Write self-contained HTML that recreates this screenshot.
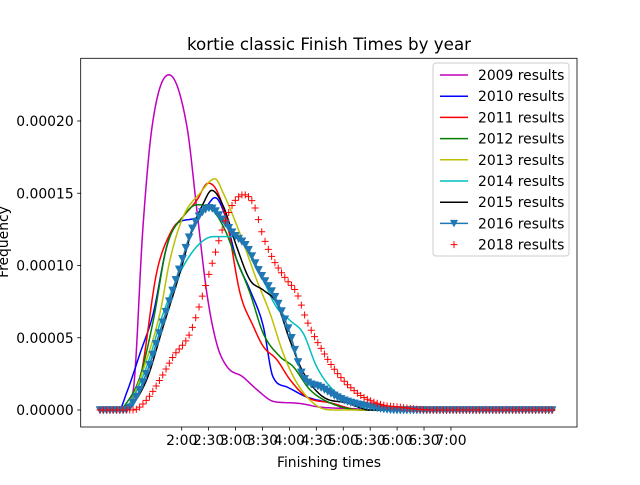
<!DOCTYPE html>
<html><head><meta charset="utf-8"><style>
body{margin:0;background:#fff;}
svg text{font-family:"DejaVu Sans","Liberation Sans",sans-serif;fill:#000;}
</style></head><body>
<svg id="chart" width="640" height="480" viewBox="0 0 640 480" xmlns="http://www.w3.org/2000/svg">
<rect width="640" height="480" fill="#fff"/>
<text x="329" y="50" font-size="16.7" text-anchor="middle">kortie classic Finish Times by year</text>
<text x="329" y="467" font-size="13.9" text-anchor="middle">Finishing times</text>
<text transform="translate(8,242) rotate(-90)" font-size="13.9" text-anchor="middle">Frequency</text>
<g id="plot"></g>
<g id="axes"></g>
<g id="legend"></g>
</svg>
<script>
// x values in minutes, y values in units of 1e-6
const xTickMinutes=[120,150,180,210,240,270,300,330,360,390,420];
const xTickLabels=["2:00","2:30","3:00","3:30","4:00","4:30","5:00","5:30","6:00","6:30","7:00"];
const yTickValues=[0,50,100,150,200];
const yTickLabels=["0.00000","0.00005","0.00010","0.00015","0.00020"];
const seriesNames=["2009 results","2010 results","2011 results","2012 results","2013 results","2014 results","2015 results","2016 results","2018 results"];

const m2009=[29,54.6,65.7,76.9,87,105.8,125.9,137,148,159,170.5,188,204,222,241,252,274,308,340,536];
const v2009=[0,0,12,127,196,232,196,138,81,46,30,23,14,6,5,4.5,2,1,0,0];
const m2010=[29,50,58.7,73.5,88.4,103.3,114.4,136.7,147.9,157.1,166.4,181.3,196.1,210.9,221.7,237,259.3,285.2,320,536];
const v2010=[0,0,12,39,67,113,129,133,141,147,138,104,83,58,23,16,9,5,0,0];
const m2011=[29,54.6,73.5,92.1,107,121.8,136.7,149.6,159,170.1,185,199.8,210.9,225.8,240.7,259.3,285.2,320,536];
const v2011=[0,2,21,95,122,134,145,157,152,131,81,58,44,35,21,9,5,0,0];
const m2012=[29,50,58.7,73.5,88.4,103.3,121.8,136.7,151.5,166.4,181.3,196.1,210.9,229.5,244.3,263,285.2,320,536];
const v2012=[0,0,5,23,62,113,134,142,140,127,104,81,53,37,30,14,5,0,0];
const m2013=[29,55,62.4,81,95.8,107,121.8,140.4,157.1,166.4,185,203.6,218.4,233.2,248.1,270.4,290,536];
const v2013=[0,0,5,35,67,104,134,150,160,150,122,90,67,39,19,3,0,0];
const m2014=[29,55,62.4,81,99.5,118.1,136.7,155.2,173.8,188.6,207.2,225.8,240.7,255.5,270.4,288.6,307.5,330,536];
const v2014=[0,0,5,30,67,95,113,120,120,115,95,71,62,53,30,14,7,0,0];
const m2015=[29,55,62.4,81,99.5,118.1,132.9,144.1,153.4,166.4,181.3,196.1,210.9,225.8,240.7,255.5,277.8,303.8,330,536];
const v2015=[0,0,2,21,58,95,127,143,152,141,113,90,83,74,48,26,9,5,0,0];
const m2016=[29,55,62.4,81,99.5,118.1,132.9,151.5,166.4,177.5,192.4,207.2,225.8,240.7,255.5,274.1,300.1,333,360,536];
const v2016=[0,0,2,26,62,99,127,140,131,122,113,95,76,53,23,16,7,2,0,0];
const m2018=[29,66.1,81,95.8,110.6,129.2,144.1,155.2,166.4,177.5,188.6,199.8,210.9,222.1,237,248.1,259.3,274.1,292.7,315,341,363,400,536];
const v2018=[0,0,7,21,37,53,81,104,127,143,149,143,120,104,90,81,62,44,26,12,4,2,0,0];

const L=80.7,R=577,T=58.3,B=427;
function xs(m){return 181.7+(m-120)*0.8975;}
function ys(v){return 410-v*1.445;}
const NS="http://www.w3.org/2000/svg";
function mk(tag,attrs,parent){const e=document.createElementNS(NS,tag);for(const k in attrs)e.setAttribute(k,attrs[k]);parent.appendChild(e);return e;}

function interp(ms,vs,m){
  const n=ms.length;
  if(m<=ms[0])return vs[0];
  if(m>=ms[n-1])return vs[n-1];
  const d=[],s=[];
  for(let i=0;i<n-1;i++)d.push((vs[i+1]-vs[i])/(ms[i+1]-ms[i]));
  for(let i=0;i<n;i++){
    if(i===0)s.push(d[0]);else if(i===n-1)s.push(d[n-2]);
    else s.push(d[i-1]*d[i]<=0?0:(d[i-1]+d[i])/2);
  }
  for(let i=0;i<n-1;i++){
    if(d[i]===0){s[i]=0;s[i+1]=0;continue;}
    const a=s[i]/d[i],b=s[i+1]/d[i],h=a*a+b*b;
    if(h>9){const t=3/Math.sqrt(h);s[i]=t*a*d[i];s[i+1]=t*b*d[i];}
  }
  let i=0;while(m>ms[i+1])i++;
  const h=ms[i+1]-ms[i],t=(m-ms[i])/h,t2=t*t,t3=t2*t;
  return (2*t3-3*t2+1)*vs[i]+(t3-2*t2+t)*h*s[i]+(-2*t3+3*t2)*vs[i+1]+(t3-t2)*h*s[i+1];
}

const plot=document.getElementById('plot');
const series=[
 {m:m2009,v:v2009,c:"#bf00bf",key:"2009"},
 {m:m2010,v:v2010,c:"#0000ff",key:"2010"},
 {m:m2011,v:v2011,c:"#ff0000",key:"2011"},
 {m:m2012,v:v2012,c:"#008000",key:"2012"},
 {m:m2013,v:v2013,c:"#bfbf00",key:"2013"},
 {m:m2014,v:v2014,c:"#00bfbf",key:"2014"},
 {m:m2015,v:v2015,c:"#000000",key:"2015"},
 {m:m2016,v:v2016,c:"#1f77b4",key:"2016",tri:true},
 {m:m2018,v:v2018,c:"#ff0000",key:"2018",plus:true}
];
const m0=29,m1=536;
series.forEach(s=>{
  if(!s.plus){
    let d="";
    for(let px=xs(m0);px<=xs(m1)+0.01;px+=1){
      const m=120+(px-181.7)/0.8975;
      d+=(d?"L":"M")+px.toFixed(1)+","+ys(Math.max(0,interp(s.m,s.v,m))).toFixed(1);
    }
    const p=mk('path',{d:d,fill:"none",stroke:s.c,"stroke-width":1.5},plot);
    
    
  }
  if(s.tri||s.plus){
    const g=mk('g',{},plot);
    
    
    for(let px=xs(m0);px<=xs(m1)+0.01;px+=3.3){
      const m=120+(px-181.7)/0.8975;
      const y=ys(Math.max(0,interp(s.m,s.v,m)));
      if(s.tri){
        mk('path',{d:`M${px-4},${y-3.5}L${px+4},${y-3.5}L${px},${y+4}Z`,fill:s.c,stroke:s.c,"stroke-width":0.5},g);
      }else{
        mk('path',{d:`M${px-3.5},${y}H${px+3.5}M${px},${y-3.5}V${y+3.5}`,stroke:s.c,"stroke-width":1},g);
      }
    }
  }
});

const axes=document.getElementById('axes');
const frame=mk('rect',{x:L,y:T,width:R-L,height:B-T,fill:"none",stroke:"#000","stroke-width":0.8},axes);


xTickMinutes.forEach((m,i)=>{
  const x=xs(m);
  mk('line',{x1:x,x2:x,y1:B,y2:B+3.5,stroke:"#000","stroke-width":0.8},axes);
  const t=mk('text',{x:x,y:B+18,"font-size":13.9,"text-anchor":"middle"},axes);
  t.textContent=xTickLabels[i];
  
  
});
yTickValues.forEach((v,i)=>{
  const y=ys(v);
  mk('line',{x1:L-3.5,x2:L,y1:y,y2:y,stroke:"#000","stroke-width":0.8},axes);
  const t=mk('text',{x:L-7,y:y+5,"font-size":13.9,"text-anchor":"end"},axes);
  t.textContent=yTickLabels[i];
  
  
});

const lg=document.getElementById('legend');
const box=mk('rect',{x:433,y:63,width:136,height:193,rx:3,fill:"#fff","fill-opacity":0.8,stroke:"#ccc","stroke-width":1},lg);


series.forEach((s,i)=>{
  const y=75+i*21.2;
  const g=mk('g',{},lg);
  
  
  if(!s.plus)mk('line',{x1:440,x2:468,y1:y,y2:y,stroke:s.c,"stroke-width":1.5},g);
  if(s.tri)mk('path',{d:`M${454-4},${y-3.5}L${454+4},${y-3.5}L454,${y+4}Z`,fill:s.c},g);
  if(s.plus)mk('path',{d:`M${450.5},${y}H${457.5}M454,${y-3.5}V${y+3.5}`,stroke:s.c,"stroke-width":1},g);
  const t=mk('text',{x:478,y:y+5,"font-size":13.9},g);
  t.textContent=seriesNames[i];
});
</script>
</body></html>
